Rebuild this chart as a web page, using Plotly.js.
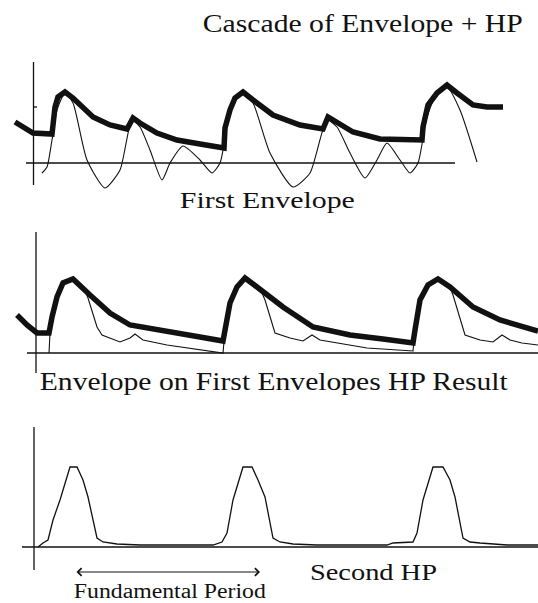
<!DOCTYPE html>
<html>
<head>
<meta charset="utf-8">
<script src="https://cdn.plot.ly/plotly-3.0.1.min.js"></script>
<style>
  html, body { margin: 0; padding: 0; background: #fff; }
  #chart { width: 538px; height: 603px; }
</style>
</head>
<body>
<div id="chart"></div>
<script>
// ---- Stage 1: first envelope (thick) and its high-pass output (thin) ----
const env1T = [15, 25, 33, 52, 53, 55, 58, 65, 73, 93, 110, 127, 133, 140, 157, 177, 200, 224, 225, 230,
               235, 243, 253, 273, 300, 323, 328, 333, 353, 380, 400, 422, 423, 428, 437, 447, 457, 473, 487, 503];
const env1A = [41, 35, 30, 29, 43, 56, 66, 71, 65, 46, 38, 34, 45, 40, 30, 23, 19, 15, 35, 53,
               65, 71, 63, 48, 38, 34, 46, 43, 31, 24, 23, 23, 36, 58, 70, 78, 70, 58, 56, 56];

const hp1T = [42, 47, 52, 57, 65, 73, 87, 105, 120, 132, 140, 150, 162, 170, 183, 200, 212, 220, 227, 233,
              243, 253, 270, 293, 310, 327, 337, 350, 365, 377, 387, 400, 410, 418, 427, 437, 447, 460, 477];
const hp1A = [-10, -4, 23, 53, 70, 60, 3, -25, -7, 43, 36, 13, -17, 0, 17, 3, -10, 0, 36, 63,
              70, 60, 10, -24, -10, 43, 36, 10, -15, 3, 20, 3, -10, 0, 46, 70, 76, 53, 1];

// ---- Stage 2: envelope of the first high-pass result (thick) and its high-pass (thin) ----
const env2T = [17, 27, 37, 49, 52, 57, 63, 73, 90, 110, 130, 167, 200, 223, 225, 230, 237, 245, 257, 283,
               313, 350, 383, 413, 415, 420, 428, 438, 450, 473, 500, 522, 538];
const env2A = [38, 28, 20, 20, 36, 56, 70, 74, 58, 40, 28, 21, 16, 12, 23, 50, 66, 75, 66, 46,
               26, 18, 14, 10, 23, 53, 68, 74, 66, 46, 33, 26, 22];

const hp2T = [49, 50, 52, 57, 63, 73, 85, 88, 97, 102, 120, 130, 135, 143, 167, 213, 223, 225, 230, 237,
              245, 257, 262, 265, 275, 290, 303, 312, 320, 367, 413, 415, 420, 428, 438, 450, 453, 465, 480, 493,
              502, 510, 522, 538];
const hp2A = [0, 20, 36, 56, 70, 74, 62, 55, 26, 18, 11, 15, 19, 13, 8, 1, 0, 23, 50, 66,
              75, 66, 60, 53, 20, 15, 12, 18, 13, 5, 2, 23, 53, 68, 74, 66, 58, 18, 13, 11,
              18, 13, 10, 8];

// ---- Stage 3: second high-pass output ----
const hp3T = [38, 43, 48, 53, 60, 70, 77, 83, 88, 97, 103, 117, 140, 213, 222, 227, 233, 243, 252, 258,
              265, 273, 280, 293, 317, 387, 393, 413, 417, 423, 433, 443, 450, 455, 463, 470, 480, 507, 538];
const hp3A = [0, 4, 7, 27, 47, 80, 80, 67, 50, 9, 5, 3, 2, 2, 5, 14, 47, 80, 80, 67,
              50, 9, 5, 3, 2, 2, 4, 5, 14, 47, 80, 80, 67, 50, 9, 5, 4, 2, 2];

// ---- Text ----
const labels = [
  "Cascade of Envelope + HP",
  "First Envelope",
  "Envelope on First Envelopes HP Result",
  "Second HP",
  "Fundamental Period"
];

// Panel baselines (amplitude zero), in pixels from the top of the 603 px canvas.
const W = 538, H = 603;
const base = [163, 353, 547];

const serif = "Liberation Serif, Times New Roman, serif";
const ink = "#111";

function line(x, y, yaxis, width, smooth) {
  return {
    x: x, y: y, yaxis: yaxis, type: "scatter", mode: "lines",
    line: { color: ink, width: width, shape: smooth ? "spline" : "linear", smoothing: smooth || 0 },
    hoverinfo: "skip", showlegend: false
  };
}

const traces = [
  line(hp1T, hp1A, "y", 1.1, 0.6),
  line(env1T, env1A, "y", 5.5),
  line(hp2T, hp2A, "y2", 1.1),
  line(env2T, env2A, "y2", 5.5),
  line(hp3T, hp3A, "y3", 1.3)
];

function yax(b, extra) {
  return Object.assign({
    range: [b - H, b], domain: [0, 1], visible: false, fixedrange: true
  }, extra || {});
}

function seg(x0, y0, x1, y1, yref) {
  return { type: "line", xref: "x", yref: yref, x0: x0, y0: y0, x1: x1, y1: y1,
           line: { color: ink, width: 1.3 } };
}

const shapes = [
  // stage 1 axes
  seg(33.5, -22, 33.5, 101, "y"), seg(26, 0, 455, 0, "y"), seg(33.5, 56, 37, 56, "y"),
  // stage 2 axes
  seg(36, -20, 36, 121, "y2"), seg(27, 0, 538, 0, "y2"),
  // stage 3 axes
  seg(34, -23, 34, 120, "y3"), seg(22, 0, 538, 0, "y3")
];

// label placement: centre x, cap-centre y (pixels), font size, rendered width
const labelPos = [
  { x: 363, y: 23, size: 25, w: 320 },
  { x: 267.5, y: 200, size: 24, w: 175 },
  { x: 274, y: 381.5, size: 25, w: 468 },
  { x: 373.5, y: 572.5, size: 23, w: 127 },
  { x: 170, y: 591, size: 20, w: 192 }
];

const annotations = labels.map((t, i) => ({
  text: t, xref: "paper", yref: "paper",
  x: labelPos[i].x / W, y: 1 - labelPos[i].y / H,
  xanchor: "center", yanchor: "middle", showarrow: false, borderpad: 0,
  font: { family: serif, size: labelPos[i].size, color: ink }
}));

// double-headed period arrow under the bottom trace
annotations.push({
  text: "", x: 260, y: -25, xref: "x", yref: "y3",
  ax: 75, ay: -25, axref: "x", ayref: "y3",
  showarrow: true, arrowside: "end+start", arrowhead: 4, arrowsize: 1.5,
  arrowwidth: 1, arrowcolor: ink, standoff: 0, startstandoff: 0
});

const layout = {
  width: W, height: H,
  margin: { l: 0, r: 0, t: 0, b: 0, pad: 0 },
  paper_bgcolor: "#fff", plot_bgcolor: "#fff",
  xaxis: { range: [0, W], domain: [0, 1], visible: false, fixedrange: true },
  yaxis: yax(base[0]),
  yaxis2: yax(base[1], { overlaying: "y" }),
  yaxis3: yax(base[2], { overlaying: "y" }),
  shapes: shapes,
  annotations: annotations,
  showlegend: false
};

Plotly.newPlot("chart", traces, layout, { staticPlot: true, displayModeBar: false }).then(() => {
  // widen the serif labels to their set widths
  labelPos.forEach((p, i) => {
    const el = document.querySelector('#chart g.annotation[data-index="' + i + '"] text.annotation-text');
    if (el) {
      el.setAttribute("textLength", p.w);
      el.setAttribute("lengthAdjust", "spacingAndGlyphs");
    }
  });
});
</script>
</body>
</html>
